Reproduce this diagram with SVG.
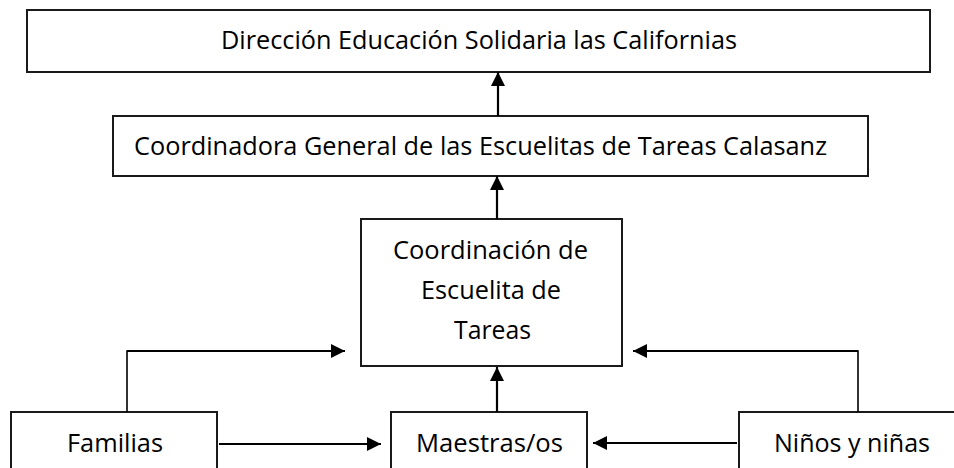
<svg xmlns="http://www.w3.org/2000/svg" width="954" height="468" viewBox="0 0 954 468">
<defs>
<marker id="ah" markerUnits="userSpaceOnUse" markerWidth="15" markerHeight="15" refX="14" refY="7" orient="auto">
<path d="M0,0 L14,7 L0,14 Z" fill="#000"/>
</marker>
<style>
.box{fill:#fff;stroke:#1a1a1a;stroke-width:2}
.t{font-family:"Open Sans","Noto Sans",sans-serif;font-size:25.5px;fill:#000;text-anchor:middle}
.c{fill:none;stroke:#000;stroke-width:2.2}
.thin{fill:none;stroke:#000;stroke-width:1.6}
</style>
</defs>
<rect width="954" height="468" fill="#fff"/>
<g id="direccion">
<rect class="box" x="27" y="10" width="903" height="62"/>
<text class="t" x="479" y="49" textLength="516" lengthAdjust="spacingAndGlyphs">Dirección Educación Solidaria las Californias</text>
</g>
<g id="coordinadora">
<rect class="box" x="113" y="116" width="755" height="60"/>
<text class="t" x="480.5" y="155" textLength="693" lengthAdjust="spacingAndGlyphs">Coordinadora General de las Escuelitas de Tareas Calasanz</text>
</g>
<g id="coordinacion">
<rect class="box" x="361" y="219" width="261" height="147"/>
<text class="t" x="490.5" y="259" textLength="195" lengthAdjust="spacingAndGlyphs">Coordinación de</text>
<text class="t" x="491" y="299" textLength="140" lengthAdjust="spacingAndGlyphs">Escuelita de</text>
<text class="t" x="492.5" y="339" textLength="77" lengthAdjust="spacingAndGlyphs">Tareas</text>
</g>
<g id="familias">
<rect class="box" x="11" y="412" width="206" height="80"/>
<text class="t" x="115" y="452" textLength="96" lengthAdjust="spacingAndGlyphs">Familias</text>
</g>
<g id="maestras">
<rect class="box" x="391" y="412" width="196" height="80"/>
<text class="t" x="489.5" y="452" textLength="147" lengthAdjust="spacingAndGlyphs">Maestras/os</text>
</g>
<g id="ninos">
<rect class="box" x="739" y="412" width="240" height="80"/>
<text class="t" x="852" y="452" textLength="156" lengthAdjust="spacingAndGlyphs">Niños y niñas</text>
</g>
<g id="connectors">
<line class="c" x1="498" y1="116" x2="498" y2="72" marker-end="url(#ah)"/>
<line class="c" x1="497" y1="219" x2="497" y2="176" marker-end="url(#ah)"/>
<line class="c" x1="497" y1="412" x2="497" y2="367" marker-end="url(#ah)"/>
<polyline class="thin" points="127,412 127,351 200,351"/>
<line class="c" x1="127" y1="351" x2="345" y2="351" marker-end="url(#ah)"/>
<polyline class="thin" points="858,412 858,351 800,351"/>
<line class="c" x1="858" y1="351" x2="633" y2="351" marker-end="url(#ah)"/>
<line class="c" x1="219" y1="444" x2="381" y2="444" marker-end="url(#ah)"/>
<line class="c" x1="737" y1="443" x2="593" y2="443" marker-end="url(#ah)"/>
</g>
</svg>
